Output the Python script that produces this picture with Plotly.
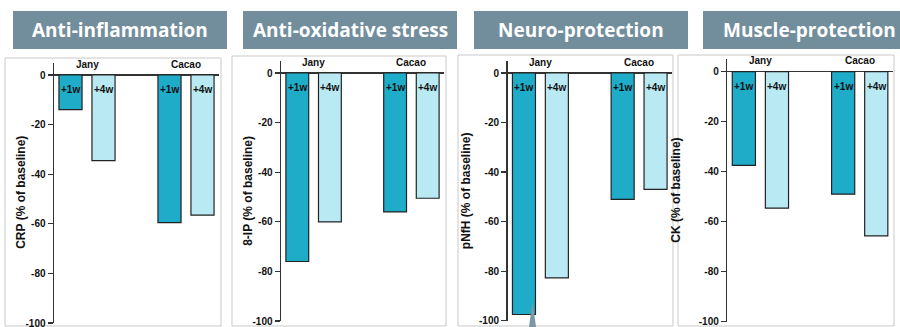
import plotly.graph_objects as go

# ---------------- data ----------------
groups = ["Jany", "Cacao"]
timepoints = ["+1w", "+4w"]
panel_titles = ["Anti-inflammation", "Anti-oxidative stress", "Neuro-protection", "Muscle-protection"]
y_labels = ["CRP (% of baseline)", "8-IP (% of baseline)", "pNfH (% of baseline)", "CK (% of baseline)"]
crp = {"Jany": [-14, -34.5], "Cacao": [-59.5, -56.5]}
iso = {"Jany": [-76, -60], "Cacao": [-56, -50.5]}
pnfh = {"Jany": [-97.5, -82.7], "Cacao": [-51, -47]}
ck = {"Jany": [-37.5, -54.6], "Cacao": [-49, -65.7]}
panel_data = [crp, iso, pnfh, ck]
y_ticks = [0, -20, -40, -60, -80, -100]

# ---------------- layout geometry (pixels) ----------------
W, H = 900, 327
# axis-x px, unit px, zero px, -100 px
geo = [
    (54.0, 33.0, 75.0, 323.0),
    (281.0, 32.6, 73.0, 321.0),
    (507.5, 32.9, 73.0, 320.7),
    (727.3, 33.1, 71.7, 321.7),
]
frames = [(5, 58, 221, 326), (232, 56, 446, 326), (458, 55, 673, 326), (678, 55, 894, 326)]
boxes = [(13, 11, 227, 49), (243, 11, 457, 49), (474, 11, 688, 49), (703, 11, 915, 49)]

DARK = "#1EACC9"
LIGHT = "#B9EAF4"
BOXC = "#728E9D"
AXC = "#333333"
FONT = "Liberation Sans"


def px(x):
    return x / W


def py(y):
    return (H - y) / H


fig = go.Figure()
layout = dict(
    width=W, height=H, margin=dict(l=0, r=0, t=0, b=0, autoexpand=False),
    paper_bgcolor="white", plot_bgcolor="rgba(0,0,0,0)",
    showlegend=False, shapes=[], annotations=[],
)

for i, data in enumerate(panel_data):
    ax, u, y0, y100 = geo[i]
    k = "" if i == 0 else str(i + 1)
    xs, ys, cols, labs = [], [], [], []
    for g, grp in enumerate(groups):
        for t, tp in enumerate(timepoints):
            xs.append(g * 3 + t + 0.5)
            ys.append(data[grp][t])
            cols.append(DARK if t == 0 else LIGHT)
            labs.append(tp)
    fig.add_trace(go.Bar(
        x=xs, y=ys, width=0.7, xaxis="x" + k, yaxis="y" + k,
        marker=dict(color=cols, line=dict(color="#222222", width=1.2)),
        hoverinfo="skip",
    ))
    scale = (y100 - y0) / 100.0
    top = y0 - 5 * scale
    layout["xaxis" + k] = dict(
        domain=[px(ax), px(ax + 5 * u)], range=[0, 5], anchor="y" + k, automargin=False,
        showgrid=False, zeroline=False, showline=False, showticklabels=False, ticks="",
    )
    layout["yaxis" + k] = dict(
        domain=[py(y100), py(top)], range=[-100, 5], anchor="x" + k, automargin=False,
        showgrid=False, zeroline=True, zerolinecolor=AXC, zerolinewidth=1.5,
        showline=True, linecolor=AXC, linewidth=1.5,
        ticks="outside", ticklen=5, tickwidth=1.2, tickcolor=AXC,
        tickvals=y_ticks, ticktext=[str(v) for v in y_ticks],
        ticklabeloverflow="allow",
        tickfont=dict(family=FONT, size=10, color="#111111", weight="bold"),
    )
    # bar labels
    for xv, lab in zip(xs, labs):
        layout["annotations"].append(dict(
            x=xv, y=-6, xref="x" + k, yref="y" + k, text="<b>%s</b>" % lab,
            showarrow=False, font=dict(family=FONT, size=10, color="#111111"),
        ))
    # group labels
    for g, grp in enumerate(groups):
        layout["annotations"].append(dict(
            x=g * 3 + 1.0, y=4.3,
            xref="x" + k, yref="y" + k, text="<b>%s</b>" % grp,
            showarrow=False, font=dict(family=FONT, size=10, color="#111111"),
        ))
    # y axis title
    layout["annotations"].append(dict(
        x=px(ax - 42), y=py((top + y100) / 2), xref="paper", yref="paper",
        text="<b>%s</b>" % y_labels[i], textangle=-90, showarrow=False,
        font=dict(family=FONT, size=12, color="#111111"),
    ))
    # frame
    fx0, fy0, fx1, fy1 = frames[i]
    layout["shapes"].append(dict(
        type="rect", xref="paper", yref="paper", x0=px(fx0), x1=px(fx1), y0=py(fy1), y1=py(fy0),
        line=dict(color="#C9C9C9", width=1), fillcolor="rgba(0,0,0,0)", layer="below",
    ))
    # title box
    bx0, by0, bx1, by1 = boxes[i]
    layout["shapes"].append(dict(
        type="rect", xref="paper", yref="paper", x0=px(bx0), x1=px(bx1), y0=py(by1), y1=py(by0),
        line=dict(width=0), fillcolor=BOXC, layer="below",
    ))
    layout["annotations"].append(dict(
        x=px((bx0 + bx1) / 2), y=py((by0 + by1) / 2 + 0.5), xref="paper", yref="paper",
        text="<b>%s</b>" % panel_titles[i], showarrow=False,
        font=dict(family="Open Sans", size=19, color="white"),
        xanchor="center", yanchor="middle",
    ))

# small pointer triangle in the third panel
layout["shapes"].append(dict(
    type="path", xref="paper", yref="paper",
    path="M %f,%f L %f,%f L %f,%f Z" % (px(529), py(327), px(532.5), py(301), px(536), py(327)),
    fillcolor="#7E97A6", line=dict(width=0), layer="above",
))

fig.update_layout(**layout)
fig.write_html(
    "out.html",
    config={"displayModeBar": False, "staticPlot": True},
    post_script=(
        "var s=document.createElement('style');"
        "s.innerHTML='html,body{margin:0;padding:0;overflow:hidden;width:900px;height:327px;}';"
        "document.head.appendChild(s);"
    ),
)
